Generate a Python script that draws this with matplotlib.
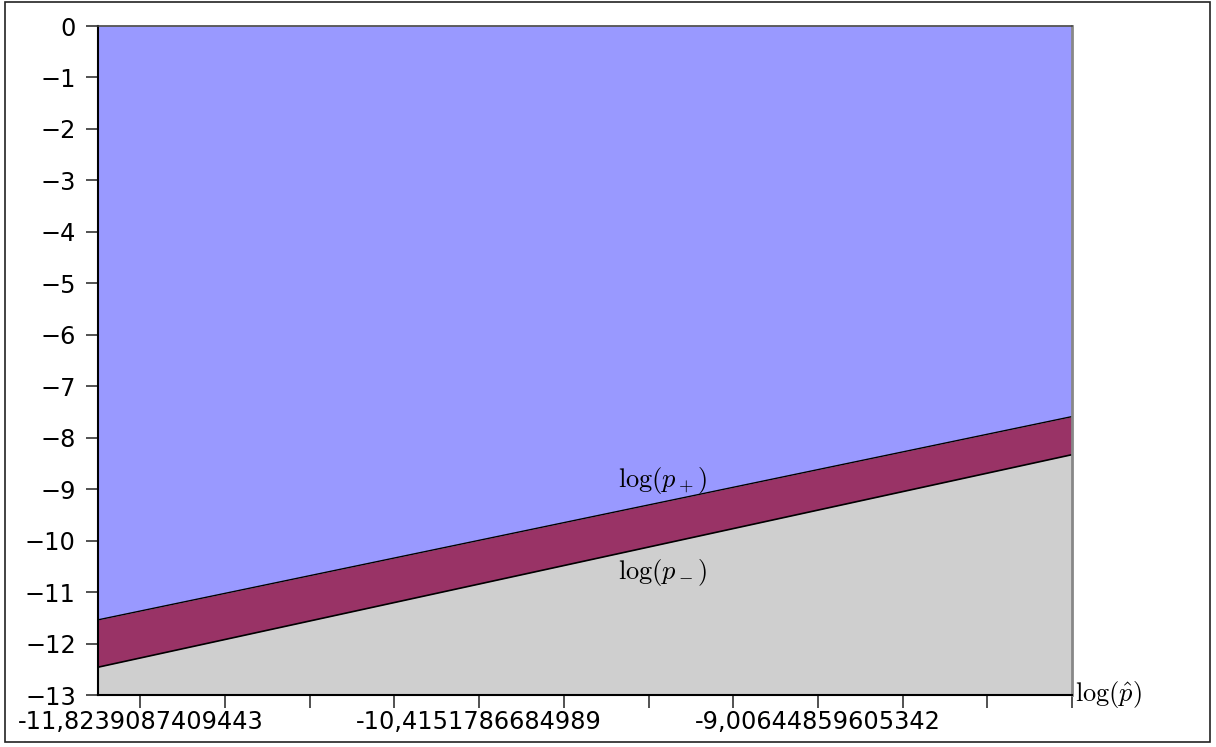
import matplotlib.pyplot as plt
import matplotlib.patches as patches
import numpy as np

plt.rcParams["mathtext.fontset"] = "cm"

# log10 of p-hat across the plotted range
log_p_hat = [-12.0, -7.94989]
# bounds of the interval, in log10
log_p_plus = [-11.54, -7.59]
log_p_minus = [-12.46, -8.33]

y_min, y_max = -13, 0

tick_start = -11.8239087409443
tick_step = 0.352182518111
n_ticks = 12
tick_labels = ["-11,8239087409443", "-10,4151786684989", "-9,00644859605342"]

fig = plt.figure(figsize=(12.16, 7.47), dpi=100)
ax = fig.add_axes([98 / 1216, 1 - 695 / 747, (1072 - 98) / 1216, (695 - 26) / 747])

x = np.array(log_p_hat)
up = np.array(log_p_plus)
lo = np.array(log_p_minus)

ax.fill_between(x, up, y_max, color="#9999ff", lw=0)
ax.fill_between(x, lo, up, color="#993366", lw=0)
ax.fill_between(x, y_min, lo, color="#cfcfcf", lw=0)
ax.plot(x, up, color="black", lw=1)
ax.plot(x, lo, color="black", lw=1.2)

ax.set_xlim(x[0], x[-1])
ax.set_ylim(y_min, y_max)

ticks = [tick_start + k * tick_step for k in range(n_ticks)]
labels = [""] * n_ticks
for i, t in enumerate(tick_labels):
    labels[4 * i] = t
ax.set_xticks(ticks)
ax.set_xticklabels(labels)
ax.set_yticks(range(y_min, y_max + 1))

ax.tick_params(axis="both", direction="out", length=9, width=1.2, color="#333333",
               labelsize=17.3)
ax.tick_params(axis="x", pad=1.5)
ax.tick_params(axis="y", pad=7)

for side in ["left", "bottom"]:
    ax.spines[side].set_color("black")
    ax.spines[side].set_linewidth(1.5)
ax.spines["top"].set_color("#444444")
ax.spines["top"].set_linewidth(1.2)
ax.spines["right"].set_color("#888888")
ax.spines["right"].set_linewidth(2)

ax.text(-9.651, -8.84, r"$\log(p_+)$", fontsize=19, ha="center", va="center")
ax.text(-9.651, -10.61, r"$\log(p_-)$", fontsize=19, ha="center", va="center")
ax.text(1.003, 0.0, r"$\log(\hat{p})$", transform=ax.transAxes, fontsize=19,
        ha="left", va="center")

# frame around the whole figure
fig.patches.append(patches.Rectangle((5 / 1216, 1 - 742 / 747), 1205 / 1216, 740 / 747,
                                     transform=fig.transFigure, fill=False,
                                     edgecolor="#222222", linewidth=1.2))

fig.savefig("out.png", dpi=100)
